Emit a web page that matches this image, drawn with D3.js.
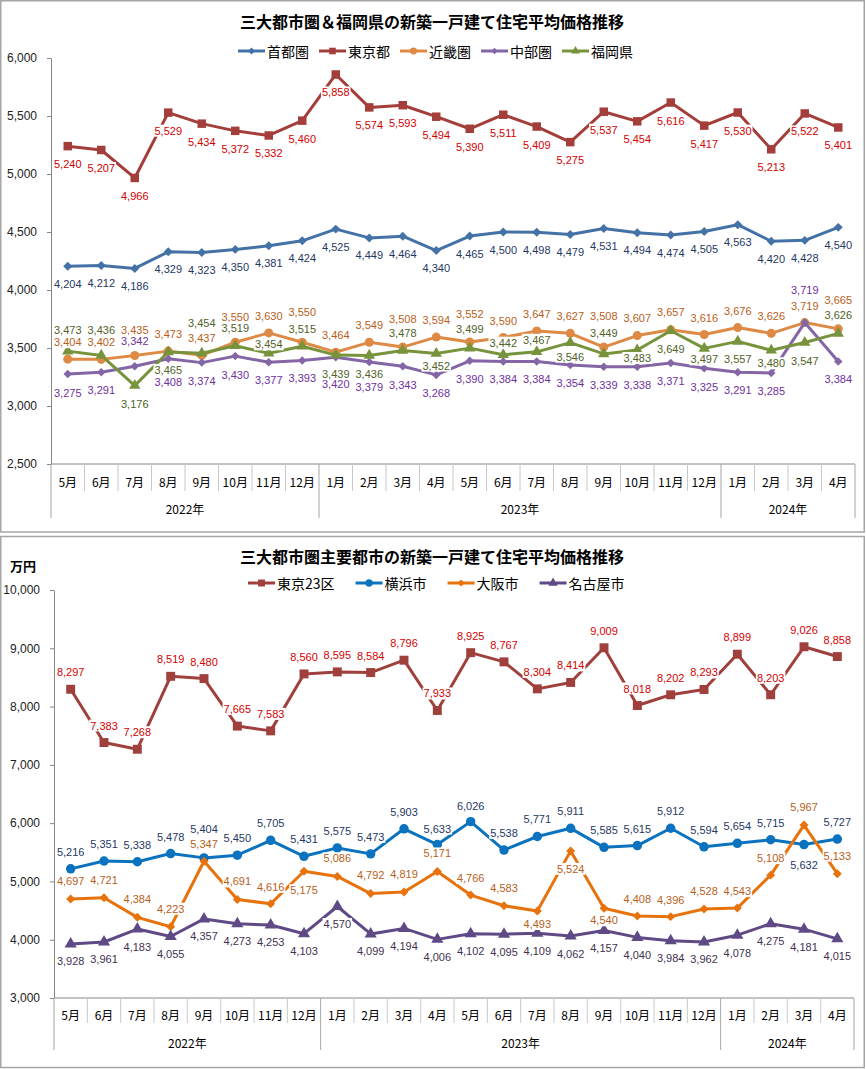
<!DOCTYPE html>
<html>
<head>
<meta charset="utf-8">
<script src="https://cdn.jsdelivr.net/npm/d3@7"></script>
<style>
body{margin:0;background:#fff}
svg text{font-family:"Liberation Sans",Arial,sans-serif}
svg text.jp{font-family:"Noto Sans CJK JP",sans-serif}
</style>
</head>
<body>
<svg id="chart" width="866" height="1069"></svg>
<script>
var months = ["5月","6月","7月","8月","9月","10月","11月","12月","1月","2月","3月","4月","5月","6月","7月","8月","9月","10月","11月","12月","1月","2月","3月","4月"]
var years = [["2022年",8],["2023年",12],["2024年",4]]

// chart 1 (万円)
var shutoken = [4204,4212,4186,4329,4323,4350,4381,4424,4525,4449,4464,4340,4465,4500,4498,4479,4531,4494,4474,4505,4563,4420,4428,4540]
var tokyoto  = [5240,5207,4966,5529,5434,5372,5332,5460,5858,5574,5593,5494,5390,5511,5409,5275,5537,5454,5616,5417,5530,5213,5522,5401]
var kinki    = [3404,3402,3435,3473,3437,3550,3630,3550,3464,3549,3508,3594,3552,3590,3647,3627,3508,3607,3657,3616,3676,3626,3719,3665]
var chubu    = [3275,3291,3342,3408,3374,3430,3377,3393,3420,3379,3343,3268,3390,3384,3384,3354,3339,3338,3371,3325,3291,3285,3719,3384]
var fukuoka  = [3473,3436,3176,3465,3454,3519,3454,3515,3439,3436,3478,3452,3499,3442,3467,3546,3449,3483,3649,3497,3557,3480,3547,3626]

// chart 2 (万円)
var tokyo23  = [8297,7383,7268,8519,8480,7665,7583,8560,8595,8584,8796,7933,8925,8767,8304,8414,9009,8018,8202,8293,8899,8203,9026,8858]
var yokohama = [5216,5351,5338,5478,5404,5450,5705,5431,5575,5473,5903,5633,6026,5538,5771,5911,5585,5615,5912,5594,5654,5715,5632,5727]
var osaka    = [4697,4721,4384,4223,5347,4691,4616,5175,5086,4792,4819,5171,4766,4583,4493,5524,4540,4408,4396,4528,4543,5108,5967,5133]
var nagoya   = [3928,3961,4183,4055,4357,4273,4253,4103,4570,4099,4194,4006,4102,4095,4109,4062,4157,4040,3984,3962,4078,4275,4181,4015]

// data label offsets (px, minus = above the point), as placed in the original
var kinkiDy   = [-17,-17,-26,-17,-17,-25,-17,-30,-17,-17,-28,-17,-28,-17,-17,-17,-31,-18,-18,-17,-17,-17,-17,-29]
var chubuDy   = [19,18,-25,23,18,19,18,18,27,25,19,18,18,18,18,18,18,18,18,19,18,18,-33,18]
var fukuokaDy = [-21,-25,18,18,-30,-18,-9,-17,19,19,-18,12,-19,-12,-12,14,-21,8,18,11,18,13,18,-18]
var yokohamaDy = [-17,-17,-17,-17,-29,-17,-17,-17,-17,-17,-17,-16,-16,-17,-17,-17,-17,-17,-17,-17,-17,-17,20,-17]
var osakaDy   = [-18,-18,-18,-18,-17,-18,-17,19,-18,-19,-18,-18,-17,-18,13,18,12,-17,-17,-18,-17,-17,-18,-18]

var svg = d3.select("#chart")
var fmt = d3.format(",")

function frame(y0,y1){
	svg.append("rect").attr("x",0.75).attr("y",y0).attr("width",863.5).attr("height",y1-y0)
		.attr("fill","#fff").attr("stroke","#a6a6a6").attr("stroke-width",1.5)
}

function marker(sel,type,size,rot){
	sel.attr("d",d3.symbol().type(type).size(size))
	if(rot) sel.attr("transform",function(){return d3.select(this).attr("transform")+" rotate(45)"})
}

function drawChart(c){
	var g = svg.append("g")
	var x = d3.scaleBand().domain(d3.range(months.length)).range([c.left,c.right])
	var y = d3.scaleLinear().domain(c.yDomain).range([c.bottom,c.top])
	var cx = function(i){return x(i)+x.bandwidth()/2}

	// title
	g.append("text").attr("class","jp").attr("x",c.titleX).attr("y",c.titleY).attr("text-anchor","middle")
		.attr("dominant-baseline","central").attr("font-size",16).attr("font-weight","bold").attr("fill","#000").text(c.title)
	if(c.unit){
		g.append("text").attr("class","jp").attr("x",10).attr("y",c.titleY+9).attr("dominant-baseline","central")
			.attr("font-size",13).attr("font-weight","bold").text(c.unit)
	}

	// y axis
	var ya = g.append("g").attr("transform","translate("+c.left+",0)")
		.call(d3.axisLeft(y).tickValues(d3.range(c.yDomain[0],c.yDomain[1]+1,c.yStep)).tickFormat(fmt)
			.tickSize(4).tickSizeOuter(0).tickPadding(10))
	ya.select(".domain").attr("stroke","#868686")
	ya.selectAll(".tick line").attr("stroke","#868686")
	ya.selectAll(".tick text").attr("font-size",12).attr("fill","#222").attr("font-family","Liberation Sans, Arial, sans-serif")

	// category axis
	g.append("line").attr("x1",c.left).attr("x2",c.right).attr("y1",c.bottom).attr("y2",c.bottom).attr("stroke","#868686")
	var bounds = [0]
	years.forEach(function(d){bounds.push(bounds[bounds.length-1]+d[1])})
	d3.range(months.length+1).forEach(function(i){
		var xx = c.left + i*x.step()
		var isYear = bounds.indexOf(i)>=0
		g.append("line").attr("x1",xx).attr("x2",xx).attr("y1",c.bottom).attr("y2",isYear? c.yearBottom:c.sepBottom)
			.attr("stroke",isYear? "#a6a6a6":"#c8c8c8")
	})
	g.selectAll(".mlab").data(months).enter().append("text").attr("class","jp")
		.attr("x",function(d,i){return cx(i)}).attr("y",c.monthY).attr("text-anchor","middle").attr("dominant-baseline","central")
		.attr("font-size",12).attr("fill","#000").text(function(d){return d})
	years.forEach(function(d,j){
		var mid = c.left + (bounds[j]+bounds[j+1])/2*x.step()
		g.append("text").attr("class","jp").attr("x",mid).attr("y",c.yearY).attr("text-anchor","middle")
			.attr("dominant-baseline","central").attr("font-size",12).attr("fill","#000").text(d[0])
	})

	// lines and markers
	c.series.forEach(function(s){
		g.append("path").datum(s.values).attr("fill","none").attr("stroke",s.color).attr("stroke-width",3)
			.attr("stroke-linejoin","round")
			.attr("d",d3.line().x(function(v,i){return cx(i)}).y(function(v){return y(v)}))
		g.selectAll(null).data(s.values).enter().append("path")
			.attr("transform",function(v,i){return "translate("+cx(i)+","+y(v)+")"})
			.attr("fill",s.color).call(marker,s.type,s.size,s.rot)
	})

	// data labels with white boxes
	c.series.forEach(function(s){
		s.values.forEach(function(v,i){
			var dy = Array.isArray(s.dy)? s.dy[i] : s.dy
			var lg = g.append("g")
			var bg = lg.append("rect").attr("fill","#fff")
			var t = lg.append("text").attr("x",cx(i)).attr("y",y(v)+dy).attr("text-anchor","middle")
				.attr("dominant-baseline","central").attr("font-size",11).attr("fill",s.labelColor).text(fmt(v))
			var b = t.node().getBBox()
			bg.attr("x",b.x-1).attr("y",b.y).attr("width",b.width+2).attr("height",b.height)
		})
	})

	// legend
	var lx = c.legendX
	c.series.forEach(function(s){
		var lg = g.append("g")
		lg.append("line").attr("x1",lx).attr("x2",lx+27).attr("y1",c.legendY).attr("y2",c.legendY)
			.attr("stroke",s.color).attr("stroke-width",3)
		lg.append("path").attr("transform","translate("+(lx+13.5)+","+c.legendY+")").attr("fill",s.color)
			.call(marker,s.type,s.size*0.6,s.rot)
		var t = lg.append("text").attr("class","jp").attr("x",lx+29).attr("y",c.legendY).attr("dominant-baseline","central")
			.attr("font-size",14).attr("fill","#000").text(s.name)
		lx += 29 + t.node().getComputedTextLength() + c.legendGap
	})
}

frame(0.75,532)
frame(536.5,1067.5)

drawChart({
	title:"三大都市圏＆福岡県の新築一戸建て住宅平均価格推移", titleX:432, titleY:21,
	left:51, right:855, top:58, bottom:464, yDomain:[2500,6000], yStep:500,
	sepBottom:491, yearBottom:518, monthY:481, yearY:508,
	legendX:238, legendY:51, legendGap:10,
	series:[
		{name:"首都圏", values:shutoken, color:"#4472a6", labelColor:"#1f3864", type:d3.symbolSquare, size:40, rot:true, dy:17.5},
		{name:"東京都", values:tokyoto, color:"#a33e3b", labelColor:"#d40000", type:d3.symbolSquare, size:72, rot:false, dy:18},
		{name:"近畿圏", values:kinki, color:"#de8a45", labelColor:"#b8601a", type:d3.symbolCircle, size:64, rot:false, dy:kinkiDy},
		{name:"中部圏", values:chubu, color:"#8466a6", labelColor:"#7030a0", type:d3.symbolSquare, size:36, rot:true, dy:chubuDy},
		{name:"福岡県", values:fukuoka, color:"#77933c", labelColor:"#4f6228", type:d3.symbolTriangle, size:56, rot:false, dy:fukuokaDy}
	]
})

drawChart({
	title:"三大都市圏主要都市の新築一戸建て住宅平均価格推移", titleX:432, titleY:556, unit:"万円",
	left:54, right:854, top:590, bottom:998, yDomain:[3000,10000], yStep:1000,
	sepBottom:1023, yearBottom:1050, monthY:1014, yearY:1042,
	legendX:248, legendY:583, legendGap:21,
	series:[
		{name:"東京23区", values:tokyo23, color:"#a0403d", labelColor:"#d40000", type:d3.symbolSquare, size:80, rot:false, dy:-17},
		{name:"横浜市", values:yokohama, color:"#0a72be", labelColor:"#1f3864", type:d3.symbolCircle, size:70, rot:false, dy:yokohamaDy},
		{name:"大阪市", values:osaka, color:"#e8720c", labelColor:"#b8601a", type:d3.symbolSquare, size:40, rot:true, dy:osakaDy},
		{name:"名古屋市", values:nagoya, color:"#5f4a86", labelColor:"#3f3151", type:d3.symbolTriangle, size:64, rot:false, dy:17.5}
	]
})
</script>
</body>
</html>
